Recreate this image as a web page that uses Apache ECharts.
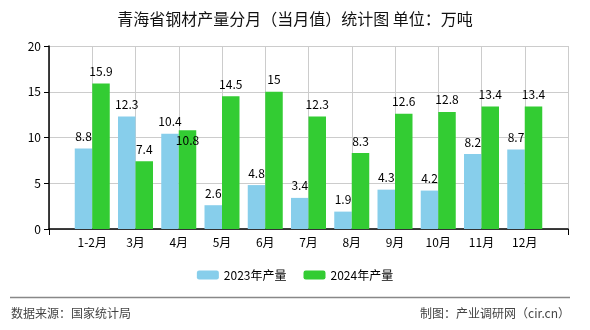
<!DOCTYPE html>
<html><head><meta charset="utf-8">
<script src="https://cdn.jsdelivr.net/npm/echarts@6/dist/echarts.min.js"></script>
<style>html,body{margin:0;padding:0;background:#fff}#c{width:590px;height:330px}</style>
</head><body><div id="c"></div>
<script>
const categories = ['', '1-2月', '3月', '4月', '5月', '6月', '7月', '8月', '9月', '10月', '11月', '12月', ''];
const values2023 = [null, 8.8, 12.3, 10.4, 2.6, 4.8, 3.4, 1.9, 4.3, 4.2, 8.2, 8.7, null];
const values2024 = [null, 15.9, 7.4, 10.8, 14.5, 15, 12.3, 8.3, 12.6, 12.8, 13.4, 13.4, null];
const yTicks = [0, 5, 10, 15, 20];

const font = '"Noto Sans CJK SC", "Noto Sans", sans-serif';
const chart = echarts.init(document.getElementById('c'), null, {renderer: 'canvas'});

// In the reference the 4月 2024 label is pushed down into the bar (collision with the 2023 label)
const data2024 = values2024.map(function (v, i) {
  if (categories[i] === '4月') {
    return {value: v, label: {offset: [0, 22]}};
  }
  return v;
});

chart.setOption({
  animation: false,
  textStyle: {fontFamily: font},
  title: {
    text: '青海省钢材产量分月（当月值）统计图 单位：万吨',
    left: 'center', top: 6,
    textStyle: {fontSize: 16, fontWeight: 'normal', color: '#111', fontFamily: font}
  },
  legend: {
    bottom: 44, left: 'center',
    itemWidth: 22, itemHeight: 9, itemGap: 17,
    textStyle: {fontSize: 12, color: '#000', fontFamily: font},
    data: ['2023年产量', '2024年产量']
  },
  grid: {left: 49, right: 22, top: 46, bottom: 101, containLabel: false},
  xAxis: {
    type: 'category', data: categories, boundaryGap: false,
    axisLine: {lineStyle: {color: '#000', width: 1.5}},
    axisTick: {show: true, length: 6, lineStyle: {color: '#000'},
      interval: function (i) { return i === 0 || i === categories.length - 1; }},
    axisLabel: {color: '#000', fontSize: 12, margin: 7, interval: 0, fontFamily: font},
    splitLine: {show: true, lineStyle: {color: '#ccc'}}
  },
  yAxis: {
    type: 'value', min: yTicks[0], max: yTicks[yTicks.length - 1], interval: 5,
    axisLine: {show: true, lineStyle: {color: '#000', width: 1.5}},
    axisTick: {show: true, length: 5, lineStyle: {color: '#000'}},
    axisLabel: {color: '#000', fontSize: 12, margin: 8, fontFamily: font},
    splitLine: {show: true, lineStyle: {color: '#ccc'}}
  },
  series: [
    {name: '2023年产量', type: 'bar', data: values2023, barWidth: 17.5, barGap: '0%',
     itemStyle: {color: '#87CEEB'},
     label: {show: true, position: 'top', color: '#000', fontSize: 12, distance: 6, fontFamily: font}},
    {name: '2024年产量', type: 'bar', data: data2024, barWidth: 17.5, barGap: '0%',
     itemStyle: {color: '#33CC33'},
     label: {show: true, position: 'top', color: '#000', fontSize: 12, distance: 6, fontFamily: font}}
  ],
  graphic: [
    {type: 'line', shape: {x1: 10, y1: 297.5, x2: 570, y2: 297.5}, style: {stroke: '#888', lineWidth: 1.5}},
    {type: 'text', left: 11, top: 307, style: {text: '数据来源：国家统计局', fill: '#444', font: '12px ' + font}},
    {type: 'text', right: 20, top: 307, style: {text: '制图：产业调研网（cir.cn）', fill: '#444', font: '12px ' + font}}
  ]
});
</script></body></html>
